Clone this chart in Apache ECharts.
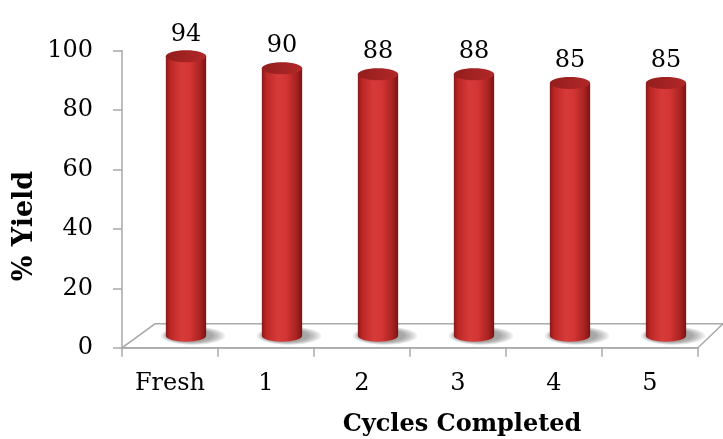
<!DOCTYPE html>
<html>
<head>
<meta charset="utf-8">
<script src="https://cdn.jsdelivr.net/npm/echarts@6/dist/echarts.min.js"></script>
<style>
  html, body { margin: 0; padding: 0; background: #ffffff; }
  #chart { width: 723px; height: 439px; }
</style>
</head>
<body>
<div id="chart"></div>
<script>
// Catalyst recycling: product yield after each reuse cycle
const categories = ['Fresh', '1', '2', '3', '4', '5'];
const yieldValues = [94, 90, 88, 88, 85, 85];
const yTicks = { min: 0, max: 100, interval: 20 };
const xTitle = 'Cycles Completed';
const yTitle = '% Yield';

const SERIF = '"DejaVu Serif", "Liberation Serif", serif';
const AXIS_GREY = '#a9a9a9';

// depth of the pseudo-3D floor, in pixels (back edge relative to front edge)
const DEPTH_DX_LEFT = 33, DEPTH_DX_RIGHT = 25, DEPTH_DY = -24;
// cylinders stand half-way into the floor depth
const MID_DX = 16, MID_DY = -12;

const chart = echarts.init(document.getElementById('chart'), null, { renderer: 'canvas' });

function renderFloor(params, api) {
  const cs = params.coordSys;
  const x0 = cs.x, x1 = cs.x + cs.width, yb = cs.y + cs.height;
  return {
    type: 'polygon',
    shape: {
      points: [
        [x0, yb], [x1, yb],
        [x1 + DEPTH_DX_RIGHT, yb + DEPTH_DY],
        [x0 + DEPTH_DX_LEFT, yb + DEPTH_DY]
      ]
    },
    style: { fill: '#ffffff', stroke: AXIS_GREY, lineWidth: 1.5 },
    silent: true
  };
}

// soft cast shadow on the floor, falling to the right: stacked translucent ellipses
function shadowLayers(cx, cy, rx, ry) {
  const layers = [];
  const steps = [12, 10, 8, 6, 4, 2];
  steps.forEach(g => {
    layers.push({
      type: 'ellipse',
      shape: { cx: cx + 4 + g * 0.25, cy: cy, rx: rx + g, ry: ry + g * 0.25 },
      style: { fill: 'rgba(60,60,60,0.09)' },
      silent: true
    });
  });
  return layers;
}

function renderCylinder(params, api) {
  const idx = api.value(0);
  const val = api.value(1);
  const top = api.coord([idx, val]);
  const base = api.coord([idx, 0]);
  const bandW = api.size([1, 0])[0];
  const w = bandW * 0.42;
  const rx = w / 2, ry = 6;
  const cx = top[0] + MID_DX;
  const yTop = top[1] + MID_DY;
  const yBot = base[1] + MID_DY;

  const bodyFill = new echarts.graphic.LinearGradient(0, 0, 1, 0, [
    { offset: 0, color: '#8a1919' },
    { offset: 0.12, color: '#bd2828' },
    { offset: 0.4, color: '#d83a3a' },
    { offset: 0.6, color: '#d33535' },
    { offset: 0.85, color: '#ab2222' },
    { offset: 1, color: '#7a1414' }
  ]);
  const topFill = new echarts.graphic.LinearGradient(0, 0, 1, 1, [
    { offset: 0, color: '#921d1d' },
    { offset: 1, color: '#b42828' }
  ]);

  return {
    type: 'group',
    children: shadowLayers(cx, yBot, rx, ry).concat([
      {
        // body: rectangle plus the lower half of the base ellipse
        type: 'path',
        shape: {
          pathData:
            'M' + (cx - rx) + ' ' + yTop +
            ' L' + (cx - rx) + ' ' + yBot +
            ' A' + rx + ' ' + ry + ' 0 0 0 ' + (cx + rx) + ' ' + yBot +
            ' L' + (cx + rx) + ' ' + yTop + ' Z'
        },
        style: { fill: bodyFill }
      },
      {
        type: 'ellipse',
        shape: { cx: cx, cy: yTop, rx: rx, ry: ry },
        style: { fill: topFill }
      },
      {
        type: 'text',
        style: {
          text: String(val),
          x: cx,
          y: yTop - ry - 4,
          align: 'center',
          verticalAlign: 'bottom',
          fill: '#000000',
          font: '24px ' + SERIF
        }
      }
    ])
  };
}

chart.setOption({
  animation: false,
  backgroundColor: '#ffffff',
  grid: { left: 122, right: 25, top: 50.5, bottom: 91.2, containLabel: false },
  xAxis: {
    type: 'category',
    data: categories,
    boundaryGap: true,
    axisLine: { show: true, lineStyle: { color: AXIS_GREY, width: 1.5 } },
    axisTick: { show: true, length: 9, lineStyle: { color: AXIS_GREY, width: 1.5 } },
    axisLabel: { color: '#000000', fontFamily: SERIF, fontSize: 24, margin: 24 },
    splitLine: { show: false }
  },
  yAxis: {
    type: 'value',
    min: yTicks.min,
    max: yTicks.max,
    interval: yTicks.interval,
    axisLine: { show: true, lineStyle: { color: AXIS_GREY, width: 1.5 } },
    axisTick: { show: true, length: 9, lineStyle: { color: AXIS_GREY, width: 1.5 } },
    axisLabel: { color: '#000000', fontFamily: SERIF, fontSize: 24, margin: 29 },
    splitLine: { show: false }
  },
  graphic: [
    {
      type: 'text',
      x: 462, y: 425,
      style: {
        text: xTitle, align: 'center', verticalAlign: 'middle',
        font: 'bold 24px ' + SERIF, fill: '#000000'
      }
    },
    {
      type: 'text',
      x: 25, y: 226, rotation: Math.PI / 2,
      style: {
        text: yTitle, align: 'center', verticalAlign: 'middle',
        font: 'bold 27px ' + SERIF, fill: '#000000'
      }
    }
  ],
  series: [
    {
      type: 'custom',
      renderItem: renderFloor,
      data: [[0, 0]],
      z: 1,
      silent: true
    },
    {
      type: 'custom',
      renderItem: renderCylinder,
      data: yieldValues.map((v, i) => [i, v]),
      encode: { x: 0, y: 1 },
      z: 3
    }
  ]
});
</script>
</body>
</html>
